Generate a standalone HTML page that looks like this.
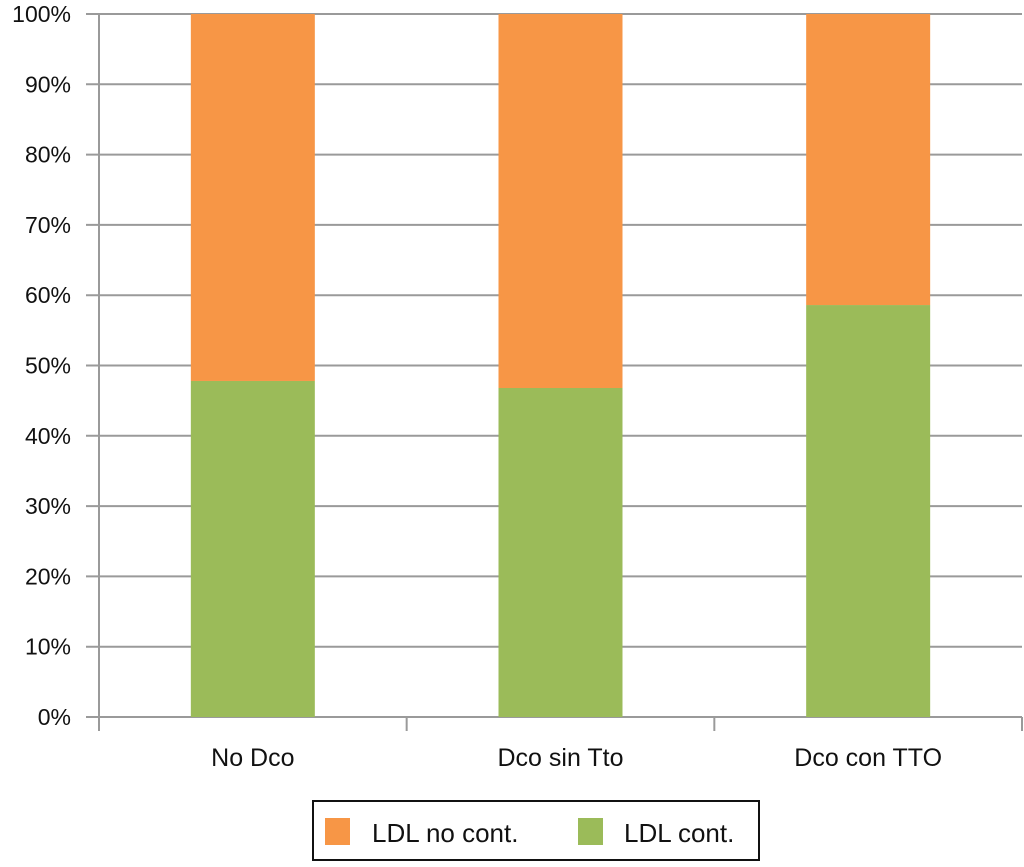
<!DOCTYPE html>
<html><head><meta charset="utf-8"><style>
body{margin:0;background:#fff;}
svg text{font-family:"Liberation Sans",sans-serif;fill:#111;}
</style></head><body>
<svg id="chart" width="1024" height="862" xmlns="http://www.w3.org/2000/svg"></svg>
<script>
const categories=["No Dco","Dco sin Tto","Dco con TTO"];
const contValues=[47.8,46.8,58.6];
const noContValues=[52.2,53.2,41.4];
const yTicks=[0,10,20,30,40,50,60,70,80,90,100];
const NS="http://www.w3.org/2000/svg";
const svg=document.getElementById('chart');
const y0=717,y1=14,xL=99,xR=1022;
function yS(v){return y0-(y0-y1)*v/100;}
const slot=(xR-xL)/3;
function xC(i){return xL+slot*(i+0.5);}
const bw=124;
function mk(t,a){const e=document.createElementNS(NS,t);for(const k in a)e.setAttribute(k,a[k]);svg.appendChild(e);return e;}
yTicks.forEach(t=>{
 const g=mk('line',{x1:xL-13,x2:xR,y1:yS(t),y2:yS(t),stroke:'#9a9a9a','stroke-width':2});
 
 
 const l=mk('text',{x:71,y:yS(t)+8,'text-anchor':'end','font-size':23});
 l.textContent=t+'%';
 
 
});
const ax=mk('line',{x1:xL,x2:xL,y1:y1,y2:731,stroke:'#9a9a9a','stroke-width':2});


categories.forEach((c,i)=>{
 const x=xC(i)-bw/2;
 const g=mk('rect',{x:x,y:yS(contValues[i]),width:bw,height:y0-yS(contValues[i]),fill:'#9bbb59'});
 
 
 const top=contValues[i]+noContValues[i];
 const o=mk('rect',{x:x,y:yS(top),width:bw,height:yS(contValues[i])-yS(top),fill:'#f79646'});
 
 
 const t=mk('line',{x1:xL+slot*(i+1),x2:xL+slot*(i+1),y1:y0,y2:731,stroke:'#9a9a9a','stroke-width':2});
 
 
 const l=mk('text',{x:xC(i),y:766,'text-anchor':'middle','font-size':25});
 l.textContent=c;
 
 
});
</script>
<svg style="position:absolute;left:0;top:0" width="1024" height="862">
<rect x="313" y="801" width="446" height="59" fill="#fff" stroke="#111" stroke-width="2"/>
<rect x="325" y="818" width="25" height="27" fill="#f79646"/>
<text x="372" y="842" font-size="26" style="font-family:'Liberation Sans',sans-serif">LDL no cont.</text>
<rect x="578" y="818" width="25" height="27" fill="#9bbb59"/>
<text x="624" y="842" font-size="26" style="font-family:'Liberation Sans',sans-serif">LDL cont.</text>
</svg>
</body></html>
